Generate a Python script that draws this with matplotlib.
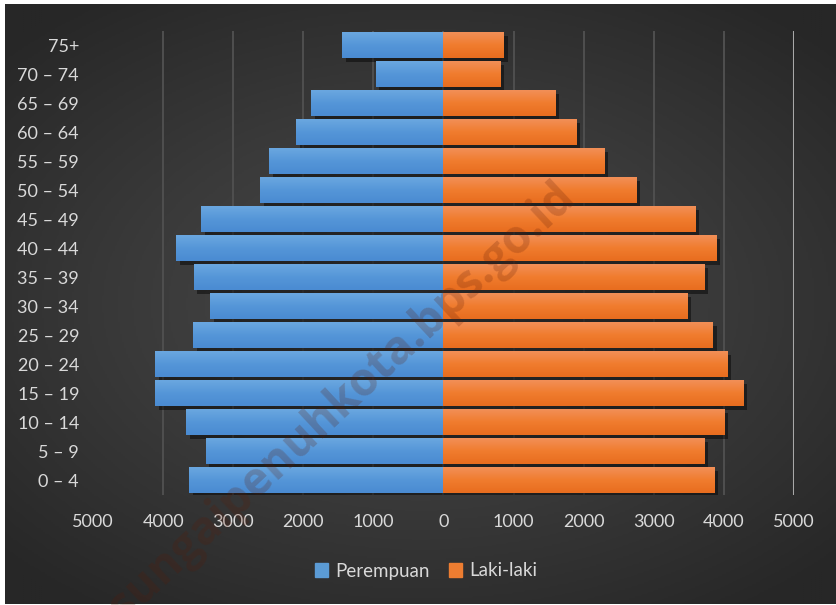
import numpy as np
import matplotlib
matplotlib.use("Agg")
import matplotlib.pyplot as plt
import matplotlib.patheffects as pe
from matplotlib.patches import Patch
from matplotlib.colors import LinearSegmentedColormap

plt.rcParams['font.family'] = ['Lato', 'DejaVu Sans']

# age groups, bottom to top
age_groups = ["0 – 4", "5 – 9", "10 – 14", "15 – 19", "20 – 24", "25 – 29",
              "30 – 34", "35 – 39", "40 – 44", "45 – 49", "50 – 54", "55 – 59",
              "60 – 64", "65 – 69", "70 – 74", "75+"]
perempuan = [3630, 3390, 3670, 4115, 4115, 3570, 3330, 3560, 3815, 3455,
             2615, 2485, 2100, 1885, 970, 1445]
laki_laki = [3870, 3730, 4015, 4285, 4055, 3845, 3485, 3730, 3900, 3600,
             2755, 2300, 1900, 1600, 815, 870]
xticks = [-5000, -4000, -3000, -2000, -1000, 0, 1000, 2000, 3000, 4000, 5000]

W, H = 837, 605
fig = plt.figure(figsize=(W / 100, H / 100), dpi=100)
fig.patch.set_facecolor("white")

# dark radial background
bg = fig.add_axes([5 / W, 1 / H, 832 / W, 600 / H])
gy, gx = np.mgrid[-1:1:300j, -1:1:400j]
r = np.sqrt((gx * 0.9) ** 2 + (gy * 1.0) ** 2)
bg_cmap = LinearSegmentedColormap.from_list("bg", ["#4a4a4a", "#3a3a3a", "#272727"])
bg.imshow(r, cmap=bg_cmap, vmin=0, vmax=1.25, aspect="auto", extent=(0, 1, 0, 1))
bg.set_axis_off()

ax = fig.add_axes([93 / W, 1 - 495 / H, (794 - 93) / W, (495 - 31) / H])
ax.set_facecolor("none")
y = np.arange(len(age_groups))

shadow = [pe.SimplePatchShadow(offset=(2.5, -2.5), shadow_rgbFace="black", alpha=0.45), pe.Normal()]
bars_p = ax.barh(y, [-v for v in perempuan], height=0.885, color="#5b9bd5", zorder=3, path_effects=shadow)
bars_l = ax.barh(y, laki_laki, height=0.885, color="#ed7d31", zorder=3, path_effects=shadow)

# light-top gradient on each bar
grad = np.linspace(0, 1, 50).reshape(-1, 1)
cm_b = LinearSegmentedColormap.from_list("b", ["#4a8bd2", "#5596d8", "#6aa7e0"])
cm_o = LinearSegmentedColormap.from_list("o", ["#e86d1f", "#f07c2e", "#f28f57"])
for bars, cm in ((bars_p, cm_b), (bars_l, cm_o)):
    for b in bars:
        x0, y0, w, h = b.get_x(), b.get_y(), b.get_width(), b.get_height()
        ax.imshow(grad, cmap=cm, aspect="auto", origin="lower",
                  extent=(x0, x0 + w, y0, y0 + h), zorder=4)

ax.set_xlim(-5000, 5000)
ax.set_ylim(-0.5, len(age_groups) - 0.5)

for v in xticks[1:-1]:
    ax.axvline(v, color="#4f4f4f", lw=1.4, zorder=1)
ax.axvline(xticks[-1], color="#a8a8a8", lw=2.2, zorder=2)

ax.set_xticks(xticks)
ax.set_xticklabels([str(abs(v)) for v in xticks])
ax.set_yticks(y)
ax.set_yticklabels(age_groups)
ax.tick_params(axis="both", length=0, colors="#d9d9d9", labelsize=13)
ax.tick_params(axis="x", pad=14)
ax.tick_params(axis="y", pad=10)
for s in ax.spines.values():
    s.set_visible(False)

handles = [Patch(color="#5b9bd5", label="Perempuan"), Patch(color="#ed7d31", label="Laki-laki")]
fig.legend(handles=handles, loc="center", bbox_to_anchor=(426 / W, 1 - 571 / H), ncol=2,
           frameon=False, handlelength=0.7, handleheight=0.7, handletextpad=0.4,
           columnspacing=1.0, fontsize=13.5, labelcolor="#d9d9d9")

# watermark
fig.text(342 / W, 1 - 402 / H, "sungaipenuhkota.bps.go.id", rotation=43, fontsize=33,
         fontweight="bold", color="#5c1a05", alpha=0.22, ha="center", va="center",
         family=["Open Sans", "DejaVu Sans"], zorder=10)

plt.savefig("out.png", dpi=100)
